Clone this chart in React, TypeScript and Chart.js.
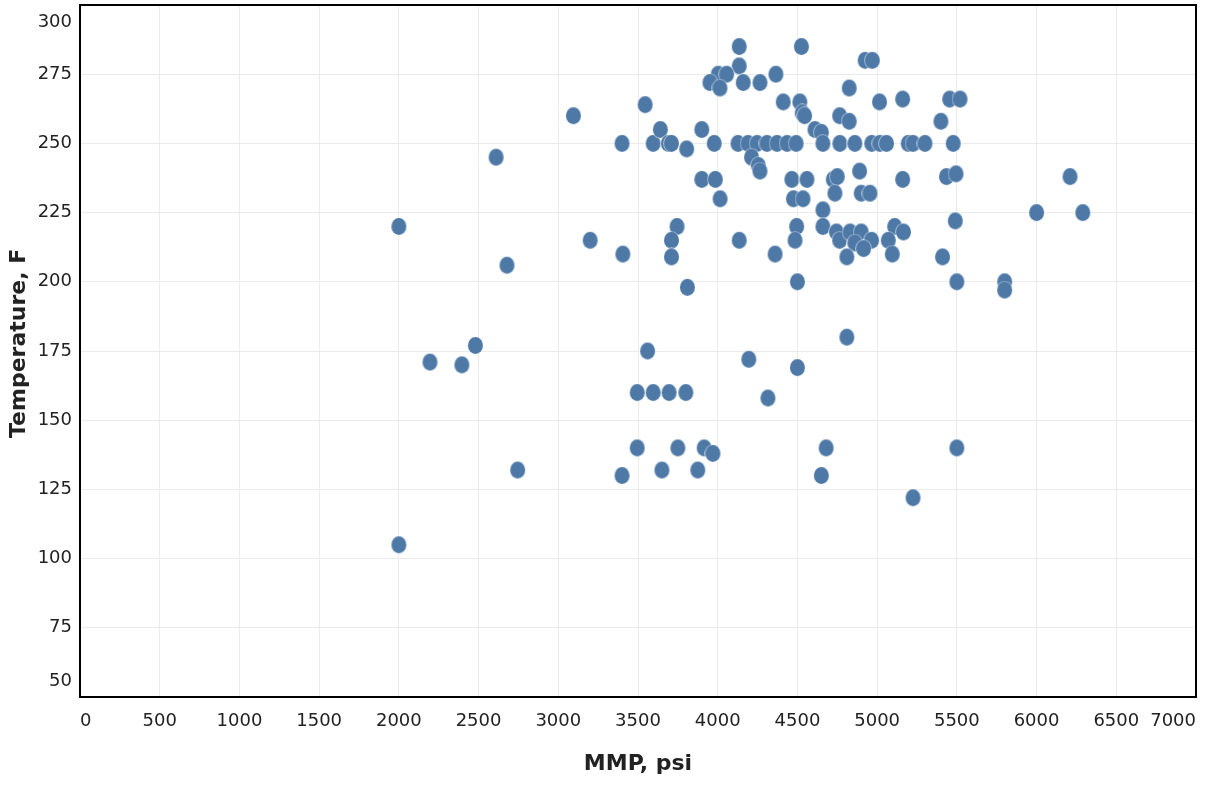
import React, { useEffect, useRef } from "react";
import { Chart, registerables } from "chart.js";

Chart.register(...registerables);

// MMP (psi) values of each sample
const mmp: number[] = [
  2000, 2000, 2195, 2395, 2480, 2610, 2678, 2745,
  3095, 3200, 3400, 3405, 3400, 3545, 3560, 3595, 3640,
  3495, 3595, 3695, 3800, 3495, 3750, 3915, 3970, 3650, 3875,
  3690, 3710, 3805, 3900, 3978, 3900, 3985, 4015, 3745, 3710, 3710, 3810,
  4135, 4525, 4135, 4003, 4056, 3951, 4014, 4160, 4265, 4365, 4411, 4515, 4530, 4545,
  4925, 4970, 4825, 5015, 5160, 5455, 5520, 4765, 4825, 4610, 4650, 5400,
  4127, 4190, 4247, 4309, 4372, 4435, 4492, 4660, 4766, 4860, 4966, 5017, 5059, 5195, 5225, 5300, 5477,
  4212, 4255, 4265,
  4465, 4560, 4725, 4750, 4890, 5160, 5435, 5495, 6210,
  4475, 4535, 4735, 4900, 4955,
  4660, 4660, 4495, 4485, 4745, 4765, 4830, 4900, 4965, 4860, 4915, 4810,
  5110, 5165, 5070, 5095, 5410, 5490, 6000, 6290, 4135, 4360,
  4500, 5500, 5800, 5800, 4810, 4500, 4195, 4315, 5500, 5225, 4650, 4680,
];

// Temperature (F) values of each sample, same order as mmp
const temperature: number[] = [
  220, 105, 171, 170, 177, 245, 206, 132,
  260, 215, 250, 210, 130, 264, 175, 250, 255,
  160, 160, 160, 160, 140, 140, 140, 138, 132, 132,
  250, 250, 248, 255, 250, 237, 237, 230, 220, 215, 209, 198,
  285, 285, 278, 275, 275, 272, 270, 272, 272, 275, 265, 265, 261, 260,
  280, 280, 270, 265, 266, 266, 266, 260, 258, 255, 254, 258,
  250, 250, 250, 250, 250, 250, 250, 250, 250, 250, 250, 250, 250, 250, 250, 250, 250,
  245, 242, 240,
  237, 237, 237, 238, 240, 237, 238, 239, 238,
  230, 230, 232, 232, 232,
  226, 220, 220, 215, 218, 215, 218, 218, 215, 214, 212, 209,
  220, 218, 215, 210, 209, 222, 225, 225, 215, 210,
  200, 200, 200, 197, 180, 169, 172, 158, 140, 122, 130, 140,
];

const xTicks: number[] = [0, 500, 1000, 1500, 2000, 2500, 3000, 3500, 4000, 4500, 5000, 5500, 6000, 6500, 7000];
const yTicks: number[] = [50, 75, 100, 125, 150, 175, 200, 225, 250, 275, 300];

const xTitle = "MMP, psi";
const yTitle = "Temperature, F";

const FONT = "'DejaVu Sans', Verdana, sans-serif";
const MARK = "rgb(78,121,167)";

function makeMark(): HTMLCanvasElement {
  const c = document.createElement("canvas");
  c.width = 17;
  c.height = 19;
  const g = c.getContext("2d")!;
  g.fillStyle = "rgba(255,255,255,0.6)";
  g.beginPath();
  g.ellipse(8.5, 9.5, 8.3, 9.3, 0, 0, Math.PI * 2);
  g.fill();
  g.fillStyle = MARK;
  g.beginPath();
  g.ellipse(8.5, 9.5, 7.5, 8.5, 0, 0, Math.PI * 2);
  g.fill();
  return c;
}

const frame = {
  id: "frame",
  afterDatasetsDraw(chart: any) {
    const { ctx, chartArea } = chart;
    ctx.save();
    ctx.strokeStyle = "#000";
    ctx.lineWidth = 2;
    ctx.strokeRect(chartArea.left, chartArea.top, chartArea.right - chartArea.left, chartArea.bottom - chartArea.top);
    ctx.restore();
  },
};

function zeroPadding(s: any) {
  s.paddingTop = 0;
  s.paddingBottom = 0;
  s.paddingLeft = 0;
  s.paddingRight = 0;
}

export default function App() {
  const ref = useRef<HTMLCanvasElement | null>(null);

  useEffect(() => {
    if (!ref.current) return;
    const points = mmp.map((x, i) => ({ x, y: temperature[i] }));
    const mark = makeMark();
    const chart = new Chart(ref.current, {
      type: "scatter",
      data: {
        datasets: [
          {
            data: points,
            pointStyle: mark as any,
            pointRadius: 8,
            pointHoverRadius: 8,
            backgroundColor: MARK,
            borderWidth: 0,
          },
        ],
      },
      options: {
        animation: false,
        responsive: false,
        devicePixelRatio: 1,
        events: [],
        layout: { autoPadding: false, padding: { left: 0, top: 5, right: 9, bottom: 0 } },
        plugins: { legend: { display: false }, tooltip: { enabled: false } },
        scales: {
          x: {
            type: "linear",
            min: 0,
            max: 7000,
            afterBuildTicks: (s: any) => {
              s.ticks = xTicks.map((v) => ({ value: v }));
            },
            afterFit: (s: any) => {
              s.height = 92;
              zeroPadding(s);
            },
            grid: { color: "#ebebeb", lineWidth: 1, drawTicks: false },
            border: { display: false },
            ticks: {
              autoSkip: false,
              maxRotation: 0,
              padding: 14,
              color: "#222",
              font: { family: FONT, size: 18 },
              callback: (v: any) => {
                if (v === 0) return "  0";
                if (v === 7000) return "7000        ";
                return String(v);
              },
            },
            title: {
              display: true,
              text: xTitle,
              color: "#222",
              font: { family: FONT, size: 22, weight: "bold" },
              padding: { top: 0, bottom: 12 },
            },
          },
          y: {
            type: "linear",
            min: 50,
            max: 300,
            afterBuildTicks: (s: any) => {
              s.ticks = yTicks.map((v) => ({ value: v }));
            },
            afterFit: (s: any) => {
              s.width = 80;
              zeroPadding(s);
            },
            grid: { color: "#ebebeb", lineWidth: 1, drawTicks: false },
            border: { display: false },
            ticks: {
              autoSkip: false,
              padding: 8,
              color: "#222",
              font: (ctx: any) => {
                const v = ctx.tick ? ctx.tick.value : null;
                let lh: number = 1.2;
                if (v === 300) lh = 35 / 18;
                if (v === 50) lh = 31 / 18;
                return { family: FONT, size: 18, lineHeight: lh };
              },
              callback: (v: any) => {
                if (v === 300) return ["", "300"];
                if (v === 50) return ["50", ""];
                return String(v);
              },
            },
            title: {
              display: true,
              text: "  " + yTitle,
              color: "#222",
              font: { family: FONT, size: 22, weight: "bold" },
              padding: { top: 6, bottom: 0 },
            },
          },
        },
      },
      plugins: [frame],
    });
    return () => chart.destroy();
  }, []);

  return (
    <div style={{ position: "absolute", left: 0, top: 0, width: 1205, height: 789, background: "#fff" }}>
      <canvas ref={ref} width={1205} height={789} style={{ display: "block" }} />
    </div>
  );
}
